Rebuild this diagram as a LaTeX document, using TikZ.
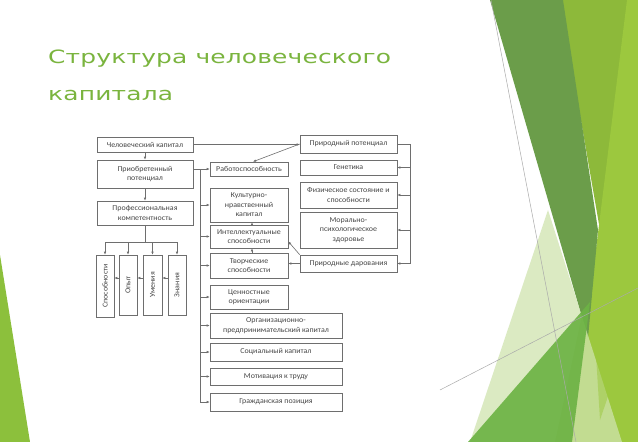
\documentclass[tikz,border=0pt]{standalone}
\usepackage{fontspec}
\usepackage{graphicx}
\setmainfont{Carlito}[FakeStretch=1.06]
\newfontfamily\titlefont{DejaVu Sans}[FakeStretch=1.36,LetterSpace=1]
\usetikzlibrary{arrows.meta}
\definecolor{titlegreen}{RGB}{122,180,62}
\definecolor{limemid}{RGB}{141,185,58}
\definecolor{limebright}{RGB}{156,200,62}
\definecolor{darkband}{RGB}{107,157,74}
\definecolor{lightband}{RGB}{207,227,174}
\definecolor{midgreen}{RGB}{109,179,69}
\definecolor{lefttri}{RGB}{140,192,60}
\definecolor{boxline}{RGB}{110,110,110}
\definecolor{txt}{RGB}{70,70,70}
\definecolor{decoline}{RGB}{170,170,170}
\tikzset{
  box/.style={draw=boxline, line width=0.6pt, fill=white, inner sep=1pt, align=center,
    text=txt, font=\fontsize{7.5}{9.5}\selectfont},
  conn/.style={draw=boxline, line width=0.6pt},
  arr/.style={conn, -{Latex[length=3pt,width=2.6pt]}},
  ttl/.style={anchor=base west, inner sep=0, text=titlegreen, font=\titlefont\fontsize{18.3}{18.3}\selectfont},
}
\begin{document}
\begin{tikzpicture}[x=1pt,y=-1pt]
\useasboundingbox (0,0) rectangle (638,442);
\fill[white] (0,0) rectangle (638,442);
% decoration
\fill[lefttri] (0,255) -- (30,442) -- (0,442) -- cycle;
\fill[limemid] (560,0) -- (638,0) -- (638,442) -- (555,442) -- (600,230) -- cycle;
\fill[limebright] (627,0) -- (638,0) -- (638,442) -- (572,442) -- cycle;
\fill[darkband] (490,0) -- (563,0) -- (598,230) -- (588,338) -- cycle;
\fill[lightband, opacity=0.75] (548,210) -- (470,442) -- (622,442) -- cycle;
\fill[midgreen, opacity=0.92] (468,442) -- (590,302) -- (572,442) -- cycle;
\fill[limebright, opacity=0.5] (592,290) -- (617,370) -- (600,420) -- cycle;
\draw[decoline, line width=0.5pt] (491,0) -- (576,442);
\draw[decoline, line width=0.5pt] (440,390) -- (638,288);
% title
\node[ttl] (t1) at (48,63) {Структура человеческого};
\node[ttl] (t2) at (48,100) {капитала};
% left column
\node[box, minimum width=96, minimum height=15] (hc) at (145,144.5) {Человеческий капитал};
\node[box, minimum width=96, minimum height=28] (acq) at (145,174) {Приобретенный\\потенциал};
\node[box, minimum width=96, minimum height=24] (prof) at (145,213) {Профессиональная\\компетентность};
\node[box, minimum width=18, minimum height=62] (sp) at (105,286) {\rotatebox{90}{Способности}};
\node[box, minimum width=18, minimum height=60] (op) at (128,285) {\rotatebox{90}{Опыт}};
\node[box, minimum width=19, minimum height=60] (um) at (152.5,285) {\rotatebox{90}{Умения}};
\node[box, minimum width=18, minimum height=60] (zn) at (177,285) {\rotatebox{90}{Знания}};
% middle column
\node[box, minimum width=78, minimum height=14] (rab) at (249,169) {Работоспособность};
\node[box, minimum width=78, minimum height=34] (kul) at (249,205) {Культурно-\\нравственный\\капитал};
\node[box, minimum width=78, minimum height=23] (int) at (249,236.5) {Интеллектуальные\\способности};
\node[box, minimum width=78, minimum height=25] (tvo) at (249,265.5) {Творческие\\способности};
\node[box, minimum width=78, minimum height=24] (cen) at (249,297) {Ценностные\\ориентации};
\node[box, minimum width=132, minimum height=25] (org) at (276,325.5) {Организационно-\\предпринимательский капитал};
\node[box, minimum width=132, minimum height=18] (soc) at (276,352) {Социальный капитал};
\node[box, minimum width=132, minimum height=17] (mot) at (276,376.5) {Мотивация к труду};
\node[box, minimum width=132, minimum height=18] (gra) at (276,402) {Гражданская позиция};
% right column
\node[box, minimum width=97, minimum height=18] (nat) at (348.5,144) {Природный потенциал};
\node[box, minimum width=97, minimum height=15] (gen) at (348.5,167.5) {Генетика};
\node[box, minimum width=97, minimum height=26] (fiz) at (348.5,195) {Физическое состояние и\\способности};
\node[box, minimum width=97, minimum height=36] (mor) at (348.5,230) {Морально-\\психологическое\\здоровье};
\node[box, minimum width=97, minimum height=17] (dar) at (348.5,263.5) {Природные дарования};
% connectors left
\draw[arr] (hc) -- (acq);
\draw[arr] (acq) -- (prof);
\draw[arr] (hc.east) -- (hc.east -| nat.west);
\draw[arr] (nat.west) -- ([xshift=4pt]rab.north);
\coordinate (pb) at (144,242);
\draw[conn] (prof.south) -- (prof.south |- pb);
\draw[conn] (sp.north |- pb) -- (zn.north |- pb);
\foreach \n in {sp,op,um,zn} \draw[arr] (\n.north |- pb) -- (\n.north);
\draw[arr] ([yshift=7pt]op.west) -- ([yshift=7pt]op.west -| sp.east);
\draw[arr] ([yshift=7pt]um.west) -- ([yshift=7pt]um.west -| op.east);
\draw[arr] ([yshift=7pt]zn.west) -- ([yshift=7pt]zn.west -| um.east);
% middle bus
\coordinate (bus) at (200,169);
\draw[arr] (acq.east |- rab.west) -- (rab.west);
\draw[arr] (bus) |- (gra.west);
\foreach \n in {kul,int,tvo,cen,org,soc,mot} \draw[arr] (bus |- \n.west) -- (\n.west);
\draw[arr] ([xshift=3pt]int.north) -- ([xshift=3pt]kul.south);
\draw[arr] ([xshift=3pt]tvo.north) -- ([xshift=3pt]int.south);
% right bus
\coordinate (rb) at (410,144);
\draw[conn] (nat.east) -- (rb) -- (rb |- dar.east);
\foreach \n in {gen,fiz,mor,dar} \draw[arr] (rb |- \n.east) -- (\n.east);
\draw[arr] (dar.north west) -- ([yshift=-5pt]int.east);
\draw[arr] (dar.west) -- (dar.west -| tvo.east);
\end{tikzpicture}
\end{document}
